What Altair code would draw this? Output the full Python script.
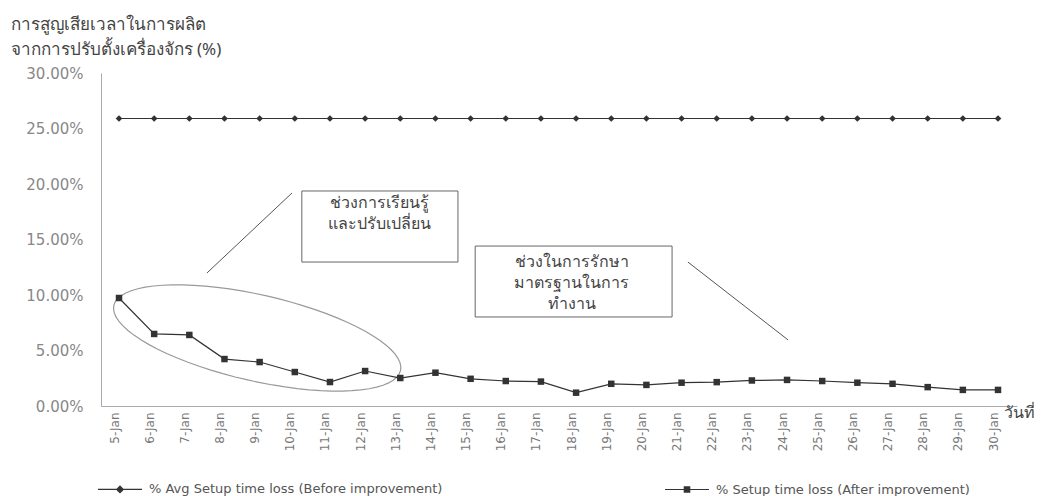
import math
import altair as alt
import pandas as pd

# ---- data -------------------------------------------------------------
days = [5, 6, 7, 8, 9, 10, 11, 12, 13, 14, 15, 16, 17,
        18, 19, 20, 21, 22, 23, 24, 25, 26, 27, 28, 29, 30]

before_pct = [25.9, 25.9, 25.9, 25.9, 25.9, 25.9, 25.9, 25.9, 25.9,
              25.9, 25.9, 25.9, 25.9, 25.9, 25.9, 25.9, 25.9, 25.9,
              25.9, 25.9, 25.9, 25.9, 25.9, 25.9, 25.9, 25.9]

after_pct = [9.73, 6.49, 6.40, 4.23, 3.96, 3.06, 2.16, 3.15, 2.52,
             3.00, 2.45, 2.25, 2.20, 1.20, 2.00, 1.90, 2.10, 2.15,
             2.30, 2.35, 2.25, 2.10, 2.00, 1.70, 1.45, 1.45]

series_names = ["% Avg Setup time loss (Before improvement)",
                "% Setup time loss (After improvement)"]

y_ticks = [0.0, 0.05, 0.10, 0.15, 0.20, 0.25, 0.30]

y_title = ["การสูญเสียเวลาในการผลิต", "จากการปรับตั้งเครื่องจักร (%)"]
x_title = "วันที่"

box_lines = [["ช่วงการเรียนรู้", "และปรับเปลี่ยน"],
             ["ช่วงในการรักษา", "มาตรฐานในการ", "ทำงาน"]]

# ---- tables -----------------------------------------------------------
before_df = pd.DataFrame({"day": days, "value": [v / 100 for v in before_pct],
                          "series": series_names[0]})
after_df = pd.DataFrame({"day": days, "value": [v / 100 for v in after_pct],
                         "series": series_names[1]})
all_df = pd.concat([before_df, after_df], ignore_index=True)

# annotation anchors, in data units (day, share)
boxes = pd.DataFrame({"day": [10.2, 15.13], "day2": [14.64, 20.73],
                      "value": [0.1937, 0.1441], "value2": [0.1297, 0.0802]})
box_text = pd.DataFrame({"day": [12.42, 17.88], "value": [0.1829, 0.1297],
                         "lines": box_lines})
leaders = pd.DataFrame({"day": [9.92, 21.18], "day2": [7.50, 24.03],
                        "value": [0.1919, 0.1297], "value2": [0.1198, 0.0595]})
ring = pd.DataFrame({"day": [8.93], "value": [0.0613]})

# ---- shapes -----------------------------------------------------------
def ellipse_path(ry, n=72):
    pts = []
    for i in range(n):
        t = 2 * math.pi * i / n
        pts.append(f"{math.cos(t):.4f},{ry * math.sin(t):.4f}")
    return "M" + "L".join(pts) + "Z"

# legend glyphs: a thin bar (the line) with the marker in its middle
BAR = "M-1,-0.028L1,-0.028L1,0.028L-1,0.028Z"
legend_diamond = BAR + "M0,-0.19L0.19,0L0,0.19L-0.19,0Z"
legend_square = BAR + "M-0.15,-0.15L0.15,-0.15L0.15,0.15L-0.15,0.15Z"

INK = "#333333"
THAI_FONT = "Noto Sans"

x_scale = alt.Scale(domain=[4.488, 30.54], nice=False, zero=False)
y_scale = alt.Scale(domain=[0, 0.30], nice=False)

x_axis = alt.Axis(values=days, labelExpr="datum.value + '-Jan'",
                  labelAngle=270, labelFontSize=12, labelFont="DejaVu Sans",
                  labelColor="#777", labelPadding=6, labelOffset=-5,
                  labelOverlap=False, labelBound=False,
                  ticks=False, grid=False, domainColor="#aaa",
                  title=x_title, titleFont=THAI_FONT, titleFontSize=16,
                  titleFontWeight="normal", titleColor="#444",
                  titleAngle=0, titleAlign="left", titleBaseline="middle",
                  titleX=902, titleY=6)
y_axis = alt.Axis(values=y_ticks, format=".2%", labelFontSize=15,
                  labelFont="DejaVu Sans", labelColor="#888",
                  labelPadding=18, ticks=False, grid=False,
                  domainColor="#aaa",
                  title=y_title, titleFont=THAI_FONT, titleFontSize=17,
                  titleFontWeight="normal", titleColor="#444",
                  titleAngle=0, titleAlign="left",
                  titleBaseline="alphabetic", titleLineHeight=25,
                  titleX=-91, titleY=-44)

x_enc = alt.X("day:Q", scale=x_scale, axis=x_axis)
y_enc = alt.Y("value:Q", scale=y_scale, axis=y_axis)

before_layer = alt.Chart(before_df).mark_line(
    color=INK, strokeWidth=1.2,
    point=alt.OverlayMarkDef(shape="diamond", size=45, filled=True, color=INK, opacity=1),
).encode(x=x_enc, y=y_enc)

after_layer = alt.Chart(after_df).mark_line(
    color=INK, strokeWidth=1.2,
    point=alt.OverlayMarkDef(shape="square", size=42, filled=True, color=INK, opacity=1),
).encode(x=x_enc, y=y_enc)

legend_layer = alt.Chart(all_df).mark_point(
    filled=True, color=INK, opacity=0, size=1936,
).encode(
    x=x_enc, y=y_enc,
    shape=alt.Shape("series:N",
                    scale=alt.Scale(domain=series_names,
                                    range=[legend_diamond, legend_square]),
                    legend=alt.Legend(title=None, orient="none", direction="horizontal",
                                      legendX=-4, legendY=393, symbolSize=1936,
                                      symbolOpacity=1, symbolFillColor=INK,
                                      labelFont="DejaVu Sans", labelFontSize=13,
                                      labelColor="#555", labelOffset=6,
                                      columnPadding=219, labelLimit=500)),
)

ring_layer = alt.Chart(ring).mark_point(
    shape=ellipse_path(0.293), size=86436, angle=12.8, filled=False,
    stroke="#999", strokeWidth=1.2, opacity=1,
).encode(x=x_enc, y=y_enc)

box_layer = alt.Chart(boxes).mark_rect(
    fill="white", stroke="#666", strokeWidth=1,
).encode(x=x_enc, x2="day2", y=y_enc, y2="value2")

text_layer = alt.Chart(box_text).mark_text(
    font=THAI_FONT, fontSize=16, color="#444", lineHeight=21,
    align="center", baseline="middle",
).encode(x=x_enc, y=y_enc, text="lines")

leader_layer = alt.Chart(leaders).mark_rule(
    color="#555", strokeWidth=1,
).encode(x=x_enc, x2="day2", y=y_enc, y2="value2")

chart = alt.layer(
    ring_layer, leader_layer, box_layer, text_layer,
    before_layer, after_layer, legend_layer,
).properties(
    width=916, height=333,
    padding={"left": 101, "top": 73, "right": 29, "bottom": 90},
    autosize=alt.AutoSizeParams(type="none"),
    background="white",
).configure_view(stroke=None)

chart.save("out.html", embed_options={"renderer": "svg", "actions": False})
